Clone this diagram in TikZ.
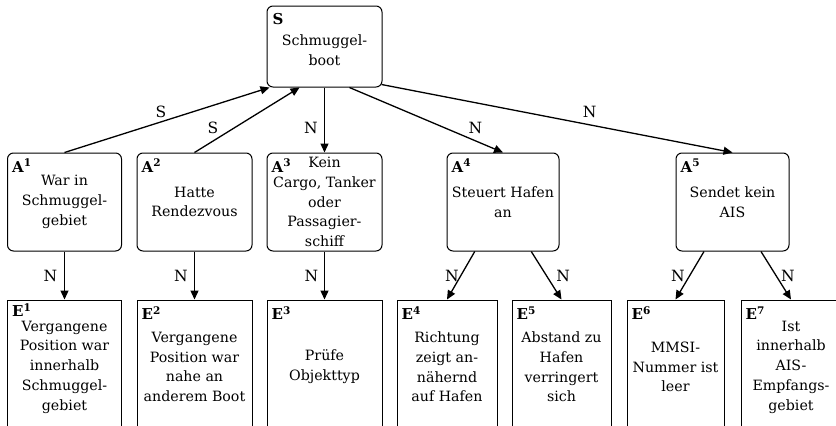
\documentclass[tikz,border=0pt]{standalone}
\usepackage{fontspec}
\setmainfont{DejaVu Serif}
\usetikzlibrary{arrows.meta,calc}
\begin{document}
\begin{tikzpicture}[x=1pt,y=-1pt,
  txt/.style={font=\fontsize{14.2}{19.8}\selectfont, align=center},
  cond/.style={txt, draw, rounded corners=6pt, line width=1pt, inner sep=0pt, minimum height=98pt},
  effect/.style={txt, draw, line width=1pt, inner sep=0pt, minimum height=134pt},
  tag/.style={anchor=base west, inner sep=0pt, font=\fontsize{15}{19.8}\selectfont\bfseries},
  link/.style={line width=1.3pt, -{Triangle[length=9pt,width=8pt]}},
  elabel/.style={font=\fontsize{15.5}{19.8}\selectfont, inner sep=0pt}
]
\useasboundingbox[fill=white] (0,0) rectangle (836,426);

% root
\node[cond, minimum width=115pt, minimum height=81pt] (S) at (324.5,46.5) {};
\node[txt] (St) at ($(S.center)+(0,4)$) {Schmuggel-\\boot};
\node[tag] (tS) at ($(S.north west)+(6,18.5)$) {S};

% conditions
\node[cond, minimum width=114pt] (A1) at (64.5,202) {War in\\Schmuggel-\\gebiet};
\node[cond, minimum width=115pt] (A2) at (194.5,202) {Hatte\\Rendezvous};
\node[cond, minimum width=115pt] (A3) at (324.5,202) {Kein\\Cargo, Tanker\\oder\\Passagier-\\schiff};
\node[cond, minimum width=112pt] (A4) at (503,202) {Steuert Hafen\\an};
\node[cond, minimum width=113pt] (A5) at (732.5,202) {Sendet kein\\AIS};
\foreach \n in {1,...,5}
  \node[tag] (tA\n) at ($(A\n.north west)+(5,19.5)$) {A\textsuperscript{\n}};

% effects
\node[effect, minimum width=114pt] (E1) at (64.5,367) {Vergangene\\Position war\\innerhalb\\Schmuggel-\\gebiet};
\node[effect, minimum width=115pt] (E2) at (194.5,367) {Vergangene\\Position war\\nahe an\\anderem Boot};
\node[effect, minimum width=115pt] (E3) at (324.5,367) {Prüfe\\Objekttyp};
\node[effect, minimum width=100pt] (E4) at (447,367) {Richtung\\zeigt an-\\nähernd\\auf Hafen};
\node[effect, minimum width=99pt] (E5) at (561.5,367) {Abstand zu\\Hafen\\verringert\\sich};
\node[effect, minimum width=97pt] (E6) at (675.5,367) {MMSI-\\Nummer ist\\leer};
\node[effect, minimum width=100pt] (E7) at (791,367) {Ist\\innerhalb\\AIS-\\Empfangs-\\gebiet};
\node[tag] (tE1) at ($(E1.north west)+(5,17)$) {E\textsuperscript{1}};
\foreach \n in {2,...,7}
  \node[tag] (tE\n) at ($(E\n.north west)+(5,20)$) {E\textsuperscript{\n}};

% connectors between root and conditions
\draw[link] (A1.north) -- ($(S.south west)+(3,0)$) node[elabel, pos=0.47, yshift=10pt] {S};
\draw[link] (A2.north) -- ($(S.south west)!0.57!(S.south)$) node[elabel, pos=0.175, yshift=13pt] {S};
\draw[link] (S.south) -- (A3.north) node[elabel, pos=0.62, xshift=-13.5pt] {N};
\draw[link] ($(S.south)!0.43!(S.south east)$) -- (A4.north) node[elabel, pos=0.82, yshift=13pt] {N};
\draw[link] ($(S.south east)+(-1,-3)$) -- (A5.north) node[elabel, pos=0.593, yshift=13pt] {N};

% connectors between conditions and effects
\draw[link] (A1.south) -- (E1.north) node[elabel, pos=0.51, xshift=-14pt] {N};
\draw[link] (A2.south) -- (E2.north) node[elabel, pos=0.51, xshift=-13.5pt] {N};
\draw[link] (A3.south) -- (E3.north) node[elabel, pos=0.51, xshift=-13pt] {N};
\draw[link] ($(A4.south)!0.5!(A4.south west)$) -- (E4.north) node[elabel, pos=0.51, xshift=-8.7pt] {N};
\draw[link] ($(A4.south)!0.5!(A4.south east)$) -- (E5.north) node[elabel, pos=0.51, xshift=16.4pt] {N};
\draw[link] ($(A5.south)!0.5!(A5.south west)$) -- (E6.north) node[elabel, pos=0.51, xshift=-11.5pt] {N};
\draw[link] ($(A5.south)!0.5!(A5.south east)$) -- (E7.north) node[elabel, pos=0.51, xshift=11.7pt] {N};
\end{tikzpicture}
\end{document}
